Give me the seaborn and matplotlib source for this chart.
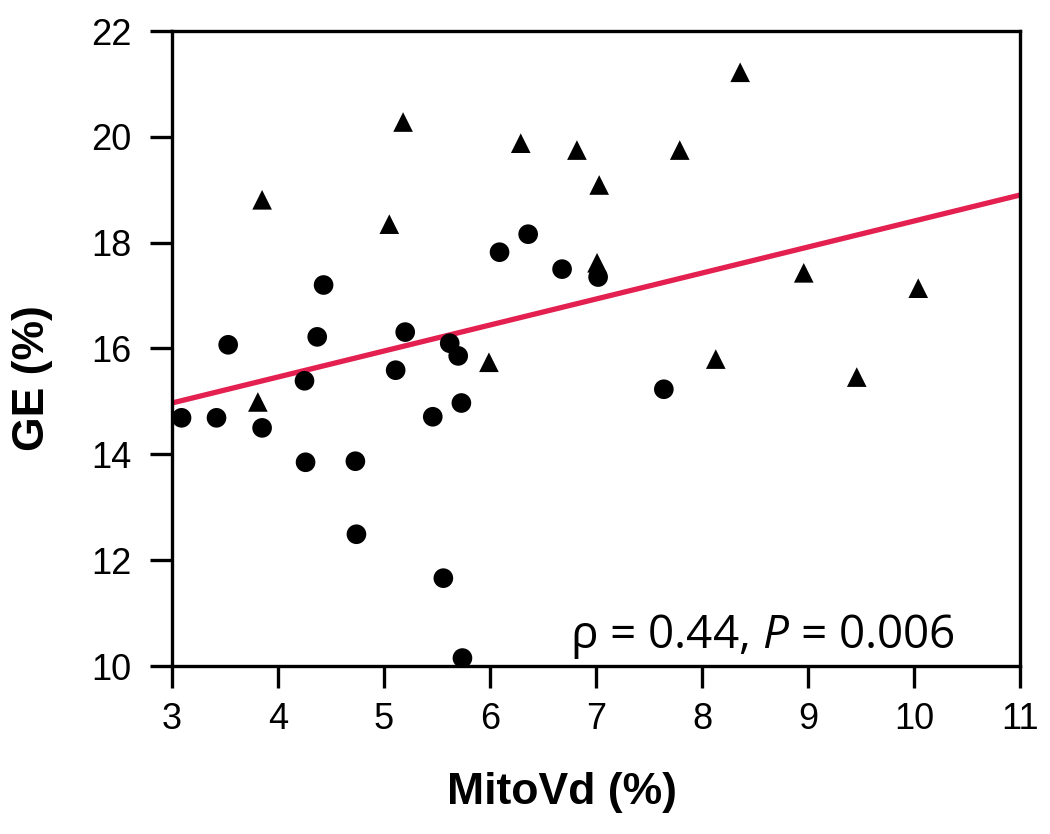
import matplotlib
matplotlib.use("Agg")
import matplotlib.pyplot as plt
import seaborn as sns
import pandas as pd

# Data
circle_x = [3.09, 3.42, 3.53, 3.85, 4.37, 4.43, 4.25, 4.26, 4.73, 4.74, 5.20, 5.11,
            5.62, 5.70, 5.46, 5.73, 5.56, 5.74, 6.09, 6.36, 6.68, 7.02, 7.64]
circle_y = [14.69, 14.69, 16.07, 14.50, 16.22, 17.20, 15.39, 13.85, 13.87, 12.49, 16.31, 15.59,
            16.10, 15.86, 14.71, 14.97, 11.66, 10.15, 17.82, 18.16, 17.50, 17.35, 15.23]
triangle_x = [3.85, 5.18, 5.05, 6.29, 6.82, 7.03, 7.79, 8.36, 7.01, 8.96, 10.04, 3.81,
              5.99, 8.13, 9.46]
triangle_y = [18.81, 20.28, 18.35, 19.88, 19.75, 19.09, 19.75, 21.22, 17.62, 17.43, 17.14, 14.99,
              15.74, 15.80, 15.46]
fit_x = [3, 11]
fit_y = [14.97, 18.90]
x_ticks = [3, 4, 5, 6, 7, 8, 9, 10, 11]
y_ticks = [10, 12, 14, 16, 18, 20, 22]
annotation = "ρ = 0.44, $\\mathit{P}$ = 0.006"

df = pd.DataFrame({
    "MitoVd": circle_x + triangle_x,
    "GE": circle_y + triangle_y,
    "group": ["circle"] * len(circle_x) + ["triangle"] * len(triangle_x),
})
fit = pd.DataFrame({"x": fit_x, "y": fit_y})

sns.set_style("ticks")
plt.rcParams["font.family"] = ["Liberation Sans", "DejaVu Sans"]
plt.rcParams["mathtext.fontset"] = "custom"
plt.rcParams["mathtext.rm"] = "Open Sans"
plt.rcParams["mathtext.it"] = "Open Sans:italic"
plt.rcParams["text.color"] = "black"
plt.rcParams["axes.labelcolor"] = "black"

fig = plt.figure(figsize=(10.5, 8.34), dpi=100)
ax = fig.add_axes([172 / 1050, 1 - 666 / 834, 848 / 1050, 635 / 834])

sns.lineplot(data=fit, x="x", y="y", ax=ax, color="#E3204F", linewidth=3.8, zorder=2)
sns.scatterplot(data=df, x="MitoVd", y="GE", style="group",
                markers={"circle": "o", "triangle": "^"}, color="black",
                s=200, edgecolor="none", legend=False, ax=ax, zorder=3, clip_on=False)

ax.set_xlim(3, 11)
ax.set_ylim(10, 22)
ax.set_xticks(x_ticks)
ax.set_yticks(y_ticks)
ax.set_xticklabels([str(v) for v in x_ticks])
ax.set_yticklabels([str(v) for v in y_ticks])

for s in ax.spines.values():
    s.set_linewidth(2.4)
    s.set_color("black")
ax.tick_params(axis="both", direction="out", length=16, width=2.4, labelsize=26,
               colors="black", labelcolor="black")
ax.tick_params(axis="x", pad=10)
ax.tick_params(axis="y", pad=13)

ax.set_xlabel("MitoVd (%)", fontsize=32, fontweight="bold", color="black")
ax.set_ylabel("GE (%)", fontsize=32, fontweight="bold", color="black")
ax.xaxis.set_label_coords(0.46, -0.167)
ax.yaxis.set_label_coords(-0.140, 0.454)

ax.text(6.75, 10.34, annotation, fontsize=33, family="Open Sans",
        ha="left", va="baseline", color="black")

fig.savefig("out.png", dpi=100)
